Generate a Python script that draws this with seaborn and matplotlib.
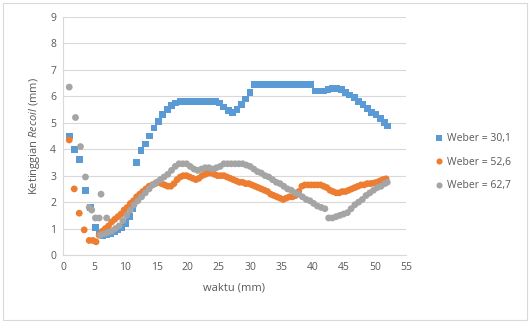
import matplotlib
matplotlib.use("Agg")
import matplotlib.pyplot as plt
import seaborn as sns
import pandas as pd
from matplotlib.patches import Rectangle

# Weber = 30,1
x_w30 = [1.0, 1.8, 2.6, 3.6, 4.4, 5.2, 5.8, 6.4, 7.0, 7.6, 8.2, 8.8, 9.4, 10.0, 10.6, 11.1,
         11.8, 12.5, 13.2, 13.9, 14.6, 15.3, 16.0, 16.7, 17.4, 18.1, 18.8, 19.5, 20.2, 20.9,
         21.6, 22.3, 23.0, 23.7, 24.4, 25.1, 25.8, 26.5, 27.2, 27.9, 28.6, 29.3, 30.0, 30.7,
         31.4, 32.1, 32.8, 33.5, 34.2, 34.9, 35.6, 36.3, 37.0, 37.7, 38.4, 39.1, 39.7, 40.4,
         41.1, 41.8, 42.5, 43.2, 43.9, 44.6, 45.3, 46.0, 46.7, 47.4, 48.1, 48.8, 49.5, 50.2,
         50.9, 51.5, 52.0]
y_w30 = [4.5, 4.0, 3.6, 2.45, 1.8, 1.05, 0.8, 0.75, 0.78, 0.82, 0.9, 0.95, 1.05, 1.2, 1.45, 1.75,
         3.5, 3.95, 4.2, 4.5, 4.8, 5.05, 5.3, 5.5, 5.65, 5.75, 5.8, 5.8, 5.8, 5.8,
         5.8, 5.8, 5.8, 5.8, 5.8, 5.75, 5.6, 5.45, 5.4, 5.5, 5.7, 5.9, 6.15, 6.45,
         6.45, 6.45, 6.45, 6.45, 6.45, 6.45, 6.45, 6.45, 6.45, 6.45, 6.45, 6.45, 6.45, 6.2,
         6.2, 6.2, 6.25, 6.3, 6.3, 6.25, 6.15, 6.05, 5.95, 5.8, 5.7, 5.55, 5.4, 5.3,
         5.15, 5.0, 4.88]

# Weber = 52,6
x_w52 = [1.0, 1.8, 2.6, 3.4, 4.2, 4.8, 5.3, 5.8, 6.3, 6.8, 7.3, 7.8, 8.3, 8.8, 9.3, 9.8,
         10.3, 10.8, 11.3, 11.8, 12.3, 12.8, 13.3, 13.8, 14.3, 14.8, 15.3, 15.8, 16.3, 16.8,
         17.3, 17.8, 18.3, 18.8, 19.3, 19.8, 20.3, 20.8, 21.3, 21.8, 22.3, 22.8, 23.3, 23.8,
         24.3, 24.8, 25.3, 25.8, 26.3, 26.8, 27.3, 27.8, 28.3, 28.8, 29.3, 29.8, 30.3, 30.8,
         31.3, 31.8, 32.3, 32.8, 33.3, 33.8, 34.3, 34.8, 35.3, 35.8, 36.3, 36.8, 37.3, 37.8,
         38.3, 38.8, 39.3, 39.8, 40.3, 40.8, 41.3, 41.8, 42.3, 42.8, 43.3, 43.8, 44.3, 44.8,
         45.3, 45.8, 46.3, 46.8, 47.3, 47.8, 48.3, 48.8, 49.3, 49.8, 50.3, 50.8, 51.3, 51.8]
y_w52 = [4.35, 2.5, 1.58, 0.95, 0.55, 0.55, 0.5, 0.75, 0.9, 1.0, 1.1, 1.25, 1.35, 1.45, 1.55, 1.7,
         1.8, 1.95, 2.05, 2.2, 2.3, 2.4, 2.5, 2.6, 2.65, 2.7, 2.75, 2.7, 2.65, 2.6,
         2.6, 2.7, 2.85, 2.95, 3.0, 3.0, 2.95, 2.9, 2.85, 2.9, 3.0, 3.05, 3.1, 3.1,
         3.05, 3.0, 3.0, 3.0, 2.95, 2.9, 2.85, 2.8, 2.75, 2.75, 2.7, 2.7, 2.65, 2.6,
         2.55, 2.5, 2.45, 2.4, 2.3, 2.25, 2.2, 2.15, 2.1, 2.15, 2.2, 2.2, 2.25, 2.4,
         2.6, 2.65, 2.65, 2.65, 2.65, 2.65, 2.65, 2.6, 2.55, 2.45, 2.4, 2.35, 2.35, 2.4,
         2.4, 2.45, 2.5, 2.55, 2.6, 2.65, 2.65, 2.7, 2.7, 2.72, 2.75, 2.8, 2.85, 2.88]

# Weber = 62,7
x_w62 = [1.0, 2.0, 2.8, 3.6, 4.2, 4.6, 5.2, 5.8, 6.1, 7.0,
         6.0, 6.6, 7.2, 7.8, 8.4, 9.0, 9.6, 10.2, 10.8, 11.4, 12.0, 12.6, 13.2, 13.8,
         14.4, 15.0, 15.6, 16.2, 16.8, 17.4, 18.0, 18.6, 19.2, 19.8, 20.4, 21.0, 21.6, 22.2,
         22.8, 23.4, 24.0, 24.6, 25.2, 25.8, 26.4, 27.0, 27.6, 28.2, 28.8, 29.4, 30.0, 30.6,
         31.2, 31.8, 32.4, 33.0, 33.6, 34.2, 34.8, 35.4, 36.0, 36.6, 37.2, 37.8, 38.4, 39.0,
         39.6, 40.2, 40.8, 41.4, 42.0, 42.6, 43.2, 43.8, 44.4, 45.0, 45.6, 46.2, 46.8, 47.4,
         48.0, 48.6, 49.2, 49.8, 50.4, 51.0, 51.6, 52.0]
y_w62 = [6.35, 5.2, 4.1, 2.95, 1.8, 1.7, 1.4, 1.4, 2.3, 1.4,
         0.75, 0.8, 0.85, 0.9, 1.0, 1.1, 1.3, 1.5, 1.7, 1.9, 2.05, 2.2, 2.35, 2.5,
         2.65, 2.75, 2.85, 2.95, 3.05, 3.2, 3.35, 3.45, 3.45, 3.45, 3.35, 3.25, 3.2, 3.25,
         3.3, 3.3, 3.25, 3.3, 3.35, 3.45, 3.45, 3.45, 3.45, 3.45, 3.45, 3.4, 3.35, 3.25,
         3.15, 3.1, 3.0, 2.95, 2.85, 2.75, 2.7, 2.6, 2.5, 2.45, 2.35, 2.3, 2.2, 2.1,
         2.05, 1.95, 1.85, 1.8, 1.75, 1.4, 1.4, 1.45, 1.5, 1.55, 1.6, 1.75, 1.9, 2.0,
         2.1, 2.25, 2.35, 2.45, 2.55, 2.6, 2.7, 2.75]

series_names = ["Weber = 30,1", "Weber = 52,6", "Weber = 62,7"]
colors = ["#5B9BD5", "#ED7D31", "#A5A5A5"]
markers = ["s", "o", "o"]
x_ticks = [0, 5, 10, 15, 20, 25, 30, 35, 40, 45, 50, 55]
y_ticks = [0, 1, 2, 3, 4, 5, 6, 7, 8, 9]

frames = []
for name, xs, ys in zip(series_names, [x_w30, x_w52, x_w62], [y_w30, y_w52, y_w62]):
    frames.append(pd.DataFrame({"waktu": xs, "tinggi": ys, "seri": name}))
df = pd.concat(frames, ignore_index=True)

sns.set_theme(style="white")
plt.rcParams["font.family"] = ["Open Sans", "DejaVu Sans"]
plt.rcParams["mathtext.fontset"] = "custom"
plt.rcParams["mathtext.it"] = "Open Sans:italic"
plt.rcParams["mathtext.rm"] = "Open Sans"

fig = plt.figure(figsize=(5.30, 3.23), dpi=100)
ax = fig.add_axes([63 / 530, 1 - 255 / 323, (406 - 63) / 530, (255 - 17) / 323])

sns.scatterplot(
    data=df, x="waktu", y="tinggi", hue="seri", style="seri",
    hue_order=series_names, style_order=series_names,
    palette=dict(zip(series_names, colors)),
    markers=dict(zip(series_names, markers)),
    s=24, linewidth=0, ax=ax, zorder=3,
)

ax.set_xlim(0, 55)
ax.set_ylim(0, 9)
ax.set_xticks(x_ticks)
ax.set_yticks(y_ticks)
text_col = "#595959"
ax.tick_params(axis="both", length=0, labelsize=7.5, labelcolor=text_col, pad=5)
ax.grid(axis="y", color="#D9D9D9", linewidth=0.8)
ax.set_axisbelow(True)
for side in ["top", "right"]:
    ax.spines[side].set_visible(False)
ax.spines["bottom"].set_color("#D9D9D9")
ax.spines["left"].set_color("#D9D9D9")
ax.spines["bottom"].set_linewidth(0.8)
ax.spines["left"].set_linewidth(0.8)

ax.set_xlabel("waktu (mm)", fontsize=8, color=text_col, labelpad=7)
ax.set_ylabel(r"Ketinggian $\mathit{Recoil}$ (mm)", fontsize=8, color=text_col, labelpad=6)

handles, labels = ax.get_legend_handles_labels()
ax.legend(handles, labels, loc="upper left", bbox_to_anchor=(430 / 530, 1 - 129 / 323),
          bbox_transform=fig.transFigure, frameon=False, fontsize=7.5,
          labelcolor=text_col, handletextpad=0.2, labelspacing=1.2,
          markerscale=0.9, handlelength=1.0, borderaxespad=0)

# chart area border
fig.patches.append(Rectangle((3 / 530, 3 / 323), 524 / 530, 317 / 323,
                             transform=fig.transFigure, fill=False,
                             edgecolor="#D9D9D9", linewidth=0.8))

fig.savefig("out.png", dpi=100)
